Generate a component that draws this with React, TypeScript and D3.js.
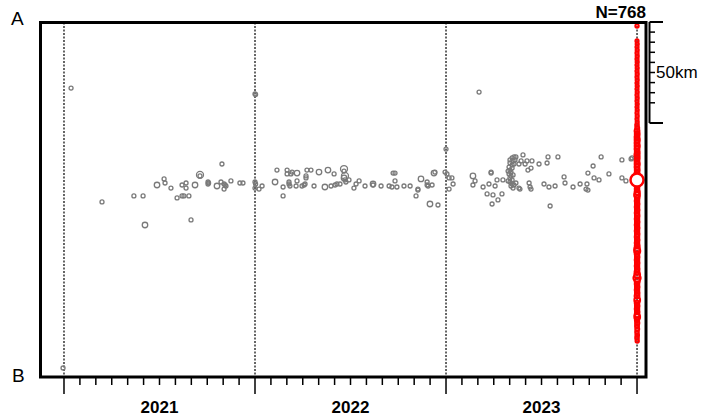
import { useEffect, useRef } from 'react'
import * as d3 from 'd3'

const WIDTH = 701
const HEIGHT = 417
const FRAME = { left: 40.5, right: 646, top: 22.5, bottom: 377 }

// x: decimal year, y: distance along profile A-B (km)
const X_DOMAIN = [2020.877, 2024.047]
const Y_DOMAIN = [0, 176]
const YEAR_LABELS = [2021, 2022, 2023]
const YEAR_LINES = [2021, 2022, 2023, 2024]
const SCALE_KM = 50
const SCALE_TICKS = [5, 10, 15, 20, 25, 30, 35, 40]
const COUNT_LABEL = 'N=768'

// past events: [year, km, size class]
const pastEvents: [number, number, number][] = [
  [2020.995, 171.3, 1], [2021.037, 32.7, 1], [2022.0, 35.6, 1], [2022.003, 35.9, 1],
  [2021.199, 89.1, 1], [2021.366, 86.1, 1], [2021.414, 86.1, 1], [2021.424, 100.5, 2],
  [2021.487, 80.7, 2], [2021.524, 77.7, 1], [2021.529, 79.7, 1], [2021.56, 82.2, 1],
  [2021.592, 87.1, 1], [2021.618, 86.1, 1], [2021.628, 86.1, 1], [2021.654, 86.1, 1],
  [2021.618, 80.7, 1], [2021.639, 79.7, 1], [2021.639, 82.2, 1], [2021.665, 98.0, 1],
  [2021.686, 80.7, 2], [2021.712, 75.7, 3], [2021.712, 76.2, 1],
  [2021.754, 79.2, 1], [2021.754, 80.2, 1], [2021.757, 79.7, 1],
  [2021.801, 81.2, 2], [2021.822, 79.2, 1], [2021.827, 70.3, 1],
  [2021.838, 80.2, 1], [2021.848, 81.2, 1], [2021.843, 80.7, 1], [2021.838, 82.7, 1],
  [2021.874, 78.7, 1], [2021.921, 79.7, 1], [2021.937, 79.7, 1],
  [2022.0, 79.2, 1], [2022.003, 80.2, 1], [2022.0, 82.2, 1], [2022.021, 82.7, 1],
  [2022.037, 81.2, 1], [2022.105, 79.2, 2], [2022.115, 73.3, 1], [2022.147, 86.1, 1],
  [2022.147, 81.7, 1], [2022.168, 73.3, 1], [2022.168, 75.2, 1], [2022.188, 75.2, 1],
  [2022.194, 74.3, 1], [2022.22, 74.8, 2], [2022.178, 79.2, 1], [2022.178, 80.2, 1],
  [2022.183, 81.2, 1], [2022.215, 81.2, 1], [2022.22, 78.7, 1], [2022.246, 81.2, 1],
  [2022.257, 80.7, 1], [2022.262, 80.2, 1], [2022.267, 76.2, 1], [2022.267, 77.2, 1],
  [2022.272, 73.3, 1], [2022.293, 73.3, 1], [2022.309, 81.2, 1], [2022.335, 74.3, 2],
  [2022.366, 81.7, 2], [2022.382, 73.3, 2], [2022.398, 81.2, 1], [2022.414, 75.2, 1],
  [2022.419, 80.7, 1], [2022.429, 80.2, 1], [2022.445, 80.2, 1],
  [2022.466, 72.8, 3], [2022.466, 73.8, 1], [2022.471, 76.2, 3], [2022.466, 77.2, 2],
  [2022.471, 78.2, 1], [2022.476, 79.2, 1], [2022.492, 78.2, 1], [2022.518, 82.2, 1],
  [2022.529, 80.2, 1], [2022.545, 78.7, 1], [2022.576, 81.2, 1], [2022.618, 80.2, 2],
  [2022.618, 80.7, 1], [2022.66, 81.2, 1], [2022.702, 81.2, 1], [2022.717, 81.7, 1],
  [2022.723, 74.8, 1], [2022.733, 74.8, 1], [2022.733, 78.7, 1], [2022.743, 81.7, 1],
  [2022.78, 81.2, 1], [2022.812, 81.2, 1], [2022.843, 86.1, 1], [2022.853, 82.7, 1],
  [2022.853, 83.2, 1], [2022.869, 77.7, 2], [2022.901, 79.2, 1], [2022.901, 80.7, 1],
  [2022.906, 81.2, 1], [2022.927, 80.7, 1], [2022.916, 90.1, 2], [2022.958, 90.6, 1],
  [2022.937, 74.8, 2], [2022.942, 74.3, 1], [2022.995, 74.3, 1],
  [2023.0, 62.9, 1], [2023.005, 75.2, 1], [2023.016, 77.2, 1], [2023.031, 77.2, 1],
  [2023.037, 80.2, 1], [2023.016, 82.7, 1], [2023.173, 34.7, 1], [2023.141, 76.2, 2],
  [2023.141, 80.7, 1], [2023.152, 78.7, 1], [2023.194, 81.7, 1], [2023.215, 85.1, 1],
  [2023.225, 80.2, 1], [2023.241, 90.1, 1], [2023.246, 85.6, 1], [2023.257, 81.2, 1],
  [2023.272, 88.1, 1], [2023.293, 85.1, 1], [2023.298, 78.2, 1], [2023.267, 78.2, 1],
  [2023.236, 74.3, 1], [2023.236, 74.8, 1],
  [2023.346, 67.3, 1], [2023.356, 66.8, 1], [2023.366, 66.8, 1], [2023.335, 68.3, 1],
  [2023.351, 68.8, 1], [2023.361, 68.3, 1], [2023.335, 69.8, 1], [2023.346, 70.8, 1],
  [2023.33, 71.8, 1], [2023.346, 72.3, 1], [2023.335, 73.3, 1], [2023.34, 74.3, 1],
  [2023.33, 75.2, 1], [2023.34, 76.2, 1], [2023.335, 77.2, 1], [2023.346, 78.2, 1],
  [2023.335, 79.2, 1], [2023.346, 80.2, 1], [2023.34, 81.2, 1], [2023.351, 82.2, 1],
  [2023.356, 70.3, 1], [2023.325, 73.8, 1], [2023.351, 75.7, 1], [2023.325, 78.7, 1],
  [2023.356, 80.7, 1],
  [2023.382, 70.3, 1], [2023.393, 68.8, 1], [2023.403, 65.8, 1], [2023.414, 70.3, 1],
  [2023.424, 68.8, 1], [2023.45, 68.8, 1], [2023.429, 73.3, 1], [2023.445, 72.3, 1],
  [2023.487, 70.3, 1], [2023.529, 69.8, 1], [2023.534, 66.8, 1], [2023.586, 66.8, 1],
  [2023.366, 79.7, 1], [2023.382, 82.2, 1], [2023.387, 82.7, 1], [2023.435, 79.7, 1],
  [2023.44, 81.7, 1], [2023.445, 82.7, 1], [2023.513, 80.2, 1], [2023.539, 81.7, 1],
  [2023.571, 81.2, 1], [2023.545, 91.1, 1],
  [2023.618, 76.7, 1], [2023.623, 79.7, 1], [2023.665, 81.7, 1], [2023.702, 80.2, 1],
  [2023.738, 80.2, 1], [2023.733, 82.7, 1], [2023.743, 83.2, 1], [2023.743, 74.8, 1],
  [2023.77, 71.3, 1], [2023.775, 77.2, 1], [2023.801, 78.2, 1], [2023.812, 66.8, 1],
  [2023.853, 75.2, 1], [2023.921, 68.3, 1], [2023.921, 77.2, 1], [2023.942, 78.7, 1],
  [2023.969, 67.8, 1], [2023.974, 67.3, 1],
]

// recent sequence: [year, km, size class]
const recentEvents: [number, number, number][] = [
  [2024.0, 2.0, 0.6],
  [2024.0, 9.4, 0.5], [2024.001, 10.9, 0.5], [2024.0, 12.4, 0.5], [2024.001, 13.9, 0.5],
  [2024.0, 15.3, 0.5], [2024.001, 16.8, 0.5], [2024.0, 18.3, 0.5], [2024.001, 19.8, 0.5],
  [2024.0, 21.3, 0.5], [2024.001, 22.8, 0.5], [2024.0, 24.3, 0.5], [2024.001, 25.7, 0.5],
  [2024.0, 27.2, 0.5], [2024.001, 28.7, 0.5], [2024.0, 30.2, 0.5], [2024.001, 31.7, 0.5],
  [2024.0, 33.2, 0.5], [2024.001, 34.7, 0.5], [2024.0, 36.1, 0.5], [2024.001, 37.6, 0.5],
  [2024.0, 39.1, 0.5], [2024.001, 40.6, 0.5], [2024.0, 42.1, 0.5], [2024.001, 43.6, 0.5],
  [2024.0, 45.0, 0.5], [2024.001, 46.5, 0.5], [2024.0, 48.0, 0.5], [2024.001, 49.5, 0.5],
  [2024.0, 51.0, 0.8], [2024.001, 52.5, 1.0],
  [2024.0, 54.0, 1.6], [2024.001, 55.4, 1.6], [2024.0, 56.9, 1.6], [2024.001, 58.4, 1.8],
  [2024.0, 59.9, 1.6], [2024.001, 61.4, 1.8], [2024.0, 62.9, 1.6], [2024.001, 64.4, 1.6],
  [2024.0, 65.8, 1.8], [2024.001, 67.3, 1.6], [2024.0, 68.8, 1.6], [2024.001, 70.3, 1.8],
  [2024.0, 71.8, 1.6], [2024.001, 73.3, 1.6], [2024.0, 74.8, 1.6], [2024.001, 76.2, 1.6],
  [2024.0, 79.7, 1.4], [2024.001, 81.2, 1.4], [2024.0, 82.7, 1.4], [2024.001, 84.2, 1.8],
  [2024.0, 85.6, 2.2], [2024.001, 87.1, 1.4], [2024.0, 88.6, 1.4], [2024.001, 90.1, 1.4],
  [2024.0, 91.6, 1.4], [2024.001, 93.1, 1.4], [2024.0, 94.6, 1.4], [2024.001, 96.0, 1.4],
  [2024.0, 97.5, 1.4], [2024.001, 99.0, 1.4], [2024.0, 100.5, 1.4], [2024.001, 102.0, 1.4],
  [2024.0, 103.5, 1.4], [2024.001, 105.0, 1.4], [2024.0, 106.4, 1.4], [2024.001, 107.9, 1.4],
  [2024.0, 109.4, 1.4], [2024.001, 110.9, 1.6], [2024.0, 112.4, 2.0], [2024.001, 113.4, 2.4],
  [2024.0, 114.9, 1.4], [2024.001, 116.3, 1.4], [2024.0, 117.8, 1.4], [2024.001, 119.3, 1.4],
  [2024.0, 120.8, 1.4], [2024.001, 122.3, 1.4], [2024.0, 123.8, 1.6], [2024.001, 125.2, 2.2],
  [2024.0, 126.7, 3.2], [2024.001, 128.2, 1.8], [2024.0, 129.7, 1.4], [2024.001, 131.2, 1.4],
  [2024.0, 132.7, 1.4], [2024.001, 134.2, 1.4], [2024.0, 135.6, 1.6], [2024.001, 137.6, 2.2],
  [2024.0, 139.1, 1.4], [2024.001, 140.6, 1.4], [2024.0, 142.1, 1.4], [2024.001, 143.6, 1.4],
  [2024.0, 145.0, 1.6], [2024.001, 146.0, 2.2], [2024.0, 147.5, 1.2], [2024.001, 149.0, 1.2],
  [2024.0, 150.5, 1.0], [2024.001, 152.0, 1.0], [2024.0, 153.5, 0.8], [2024.001, 155.0, 0.8],
  [2024.0, 156.4, 0.8], [2024.001, 157.9, 0.6],
]

const MAIN_EVENT: [number, number] = [2024.0, 78.2]

export default function App() {
  const svgRef = useRef<SVGSVGElement>(null)

  useEffect(() => {
    if (!svgRef.current) return
    const svg = d3.select(svgRef.current)
    svg.selectAll('*').remove()

    const x = d3.scaleLinear().domain(X_DOMAIN).range([FRAME.left, FRAME.right])
    const y = d3.scaleLinear().domain(Y_DOMAIN).range([22, 377.5])
    const r = d3.scaleLinear().domain([1, 3]).range([2, 3.5])
    const font = '"Liberation Sans", Arial, sans-serif'

    // year separators
    svg.append('g')
      .selectAll('line')
      .data(YEAR_LINES)
      .join('line')
      .attr('x1', (d) => x(d))
      .attr('x2', (d) => x(d))
      .attr('y1', FRAME.top)
      .attr('y2', FRAME.bottom)
      .attr('stroke', '#000')
      .attr('stroke-width', 1.2)
      .attr('stroke-dasharray', '2 1.5')

    // past events
    svg.append('g')
      .selectAll('circle')
      .data(pastEvents)
      .join('circle')
      .attr('cx', (d) => x(d[0]))
      .attr('cy', (d) => y(d[1]))
      .attr('r', (d) => r(d[2]))
      .attr('fill', 'none')
      .attr('stroke', '#7a7a7a')
      .attr('stroke-width', 1.3)

    // recent sequence
    svg.append('g')
      .selectAll('circle')
      .data(recentEvents)
      .join('circle')
      .attr('cx', (d) => x(d[0]))
      .attr('cy', (d) => y(d[1]))
      .attr('r', (d) => r(d[2]))
      .attr('fill', 'none')
      .attr('stroke', '#ff0000')
      .attr('stroke-width', 2)

    svg.append('circle')
      .attr('cx', x(MAIN_EVENT[0]))
      .attr('cy', y(MAIN_EVENT[1]))
      .attr('r', 6.5)
      .attr('fill', '#fff')
      .attr('stroke', '#ff0000')
      .attr('stroke-width', 2.5)

    // frame
    svg.append('rect')
      .attr('x', FRAME.left)
      .attr('y', FRAME.top)
      .attr('width', FRAME.right - FRAME.left)
      .attr('height', FRAME.bottom - FRAME.top)
      .attr('fill', 'none')
      .attr('stroke', '#000')
      .attr('stroke-width', 3)

    // month ticks
    const months = d3.range(0, 37).map((i) => 2021 + i / 12)
    svg.append('g')
      .selectAll('line')
      .data(months)
      .join('line')
      .attr('x1', (d) => x(d))
      .attr('x2', (d) => x(d))
      .attr('y1', FRAME.bottom)
      .attr('y2', (_d, i) => (i % 12 === 0 ? 394 : 385))
      .attr('stroke', '#000')
      .attr('stroke-width', 1.5)

    svg.append('g')
      .selectAll('text')
      .data(YEAR_LABELS)
      .join('text')
      .attr('x', (d) => x(d + 0.5))
      .attr('y', 413)
      .attr('text-anchor', 'middle')
      .attr('font-family', font)
      .attr('font-weight', 'bold')
      .attr('font-size', 17)
      .text((d) => String(d))

    // profile end labels
    svg.append('text')
      .attr('x', 11)
      .attr('y', 25)
      .attr('font-family', font)
      .attr('font-size', 19)
      .text('A')
    svg.append('text')
      .attr('x', 12)
      .attr('y', 382)
      .attr('font-family', font)
      .attr('font-size', 19)
      .text('B')

    svg.append('text')
      .attr('x', FRAME.right)
      .attr('y', 18)
      .attr('text-anchor', 'end')
      .attr('font-family', font)
      .attr('font-weight', 'bold')
      .attr('font-size', 17)
      .text(COUNT_LABEL)

    // distance scale bar
    const bx = 649.5
    const bar = svg.append('g').attr('stroke', '#000')
    bar.append('line')
      .attr('x1', bx).attr('x2', bx)
      .attr('y1', y(0)).attr('y2', y(SCALE_KM))
      .attr('stroke-width', 2)
    bar.selectAll('line.end')
      .data([0, SCALE_KM])
      .join('line')
      .attr('class', 'end')
      .attr('x1', bx).attr('x2', 663)
      .attr('y1', (d) => y(d)).attr('y2', (d) => y(d))
      .attr('stroke-width', 2)
    bar.selectAll('line.minor')
      .data(SCALE_TICKS)
      .join('line')
      .attr('class', 'minor')
      .attr('x1', bx).attr('x2', 655)
      .attr('y1', (d) => y(d)).attr('y2', (d) => y(d))
      .attr('stroke-width', 1.5)
    svg.append('text')
      .attr('x', 656)
      .attr('y', y(SCALE_KM / 2) + 6)
      .attr('font-family', font)
      .attr('font-size', 17)
      .text(`${SCALE_KM}km`)
  }, [])

  return (
    <svg
      ref={svgRef}
      width={WIDTH}
      height={HEIGHT}
      style={{ position: 'absolute', left: 0, top: 0, background: '#fff' }}
    />
  )
}
